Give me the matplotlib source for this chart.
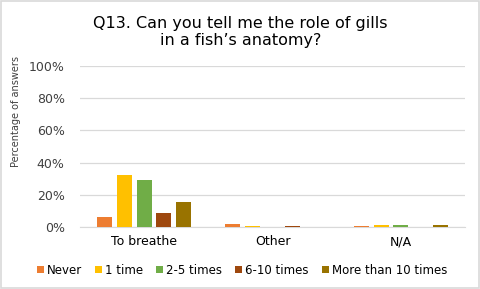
import numpy as np
import matplotlib
matplotlib.use('Agg')
import matplotlib.pyplot as plt
from matplotlib.patches import Rectangle

# ── Data ──────────────────────────────────────────────────────────────────────
categories = ['To breathe', 'Other', 'N/A']
series = ['Never', '1 time', '2-5 times', '6-10 times', 'More than 10 times']
never      = [6.5, 2.0, 0.6]
one_time   = [32.4, 0.7, 1.5]
two_five   = [29.3, 0.0, 1.5]
six_ten    = [8.8, 0.8, 0.0]
more_ten   = [15.3, 0.0, 1.5]
colors = ['#ED7D31', '#FFC000', '#70AD47', '#9E480E', '#997300']
yticks = [0, 20, 40, 60, 80, 100]

values = [never, one_time, two_five, six_ten, more_ten]

fig = plt.figure(figsize=(4.81, 2.89), dpi=100)
ax = fig.add_axes([80/481, 1 - 227/289, 385/481, 161/289])

x = np.arange(len(categories))
w = 0.117
pitch = 0.154
for i, (vals, c, name) in enumerate(zip(values, colors, series)):
    ax.bar(x + (i - 2) * pitch, vals, width=w, color=c, label=name, zorder=3)

ax.set_xlim(-0.5, 2.5)
ax.set_ylim(0, 100)
ax.set_yticks(yticks)
ax.set_yticklabels([f'{t}%' for t in yticks], fontsize=9, color='#404040')
ax.set_xticks(x)
ax.set_xticklabels(categories, fontsize=9, color='#000000')
ax.tick_params(axis='y', length=0, pad=11)
ax.tick_params(axis='x', length=0, pad=6)
ax.grid(axis='y', color='#D9D9D9', linewidth=0.9, zorder=0)
for s in ['top', 'right', 'left']:
    ax.spines[s].set_visible(False)
ax.spines['bottom'].set_color('#D9D9D9')
ax.set_ylabel('Percentage of answers', fontsize=7, color='#404040')
ax.yaxis.set_label_coords(-0.152, 0.72)

fig.text(0.5, 1 - 32/289, "Q13. Can you tell me the role of gills\nin a fish\u2019s anatomy?",
         ha='center', va='center', fontsize=11.5, linespacing=1.2)

fig.legend(loc='center', bbox_to_anchor=(0.503, 1 - 270/289), ncol=5, frameon=False,
           fontsize=8.5, handlelength=0.6, handleheight=0.6, handletextpad=0.25,
           columnspacing=1.1, borderaxespad=0)

fig.patches.append(Rectangle((0.002, 0.003), 0.994, 0.994, transform=fig.transFigure,
                             fill=False, edgecolor='#D9D9D9', linewidth=1.2))

fig.savefig('out.png', dpi=100)
